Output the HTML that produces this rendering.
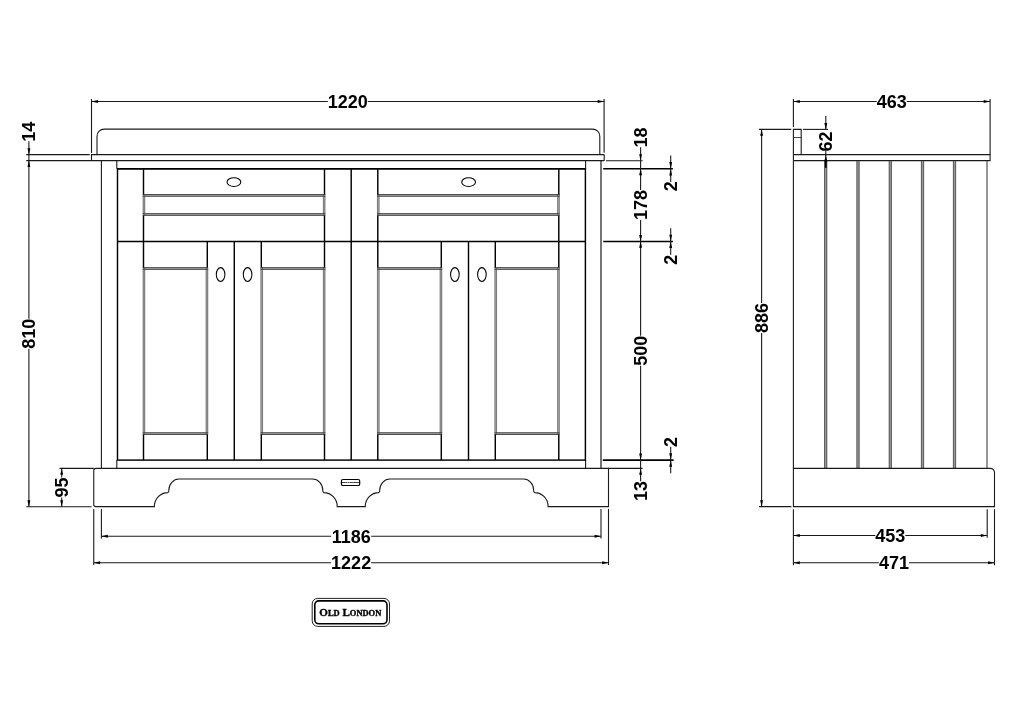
<!DOCTYPE html>
<html><head><meta charset="utf-8"><title>Old London 1200 vanity unit – dimensions</title>
<style>
html,body{margin:0;padding:0;background:#fff;overflow:hidden;width:1024px;height:724px}
svg{display:block;will-change:transform}
text{font-family:"Liberation Sans",sans-serif;font-weight:bold;font-size:18px;fill:#000}
</style></head><body>
<svg width="1024" height="724" viewBox="0 0 1024 724">
<rect width="1024" height="724" fill="#fff"/>
<path d="M97,154.6 V136.3 A7.2,7.2 0 0 1 104.2,129.1 H592.6 A7.2,7.2 0 0 1 599.8,136.3 V154.6" stroke="#1a1a1a" stroke-width="1.1" fill="none"/>
<path d="M91.5,154.6 H603.5 Q604.2,154.6 604.2,155.3 V159.9 Q604.2,160.6 603.5,160.6 H91.5 Z" stroke="#1a1a1a" stroke-width="1.1" fill="none"/>
<line x1="101.4" y1="160.6" x2="101.4" y2="468.4" stroke="#1a1a1a" stroke-width="1.1"/>
<line x1="601" y1="160.6" x2="601" y2="468.4" stroke="#1a1a1a" stroke-width="1.2"/>
<line x1="116.8" y1="160.6" x2="116.8" y2="168.75" stroke="#1a1a1a" stroke-width="1.1"/>
<line x1="585.6" y1="160.6" x2="585.6" y2="168.75" stroke="#1a1a1a" stroke-width="1.1"/>
<line x1="116.8" y1="460" x2="116.8" y2="468.4" stroke="#1a1a1a" stroke-width="1.1"/>
<line x1="585.6" y1="460" x2="585.6" y2="468.4" stroke="#1a1a1a" stroke-width="1.1"/>
<rect x="117.5" y="168.8" width="467.9" height="291.3" stroke="#000" stroke-width="1.45" fill="none"/>
<line x1="117.5" y1="168.8" x2="585.4" y2="168.8" stroke="#000" stroke-width="1.5"/>
<line x1="117.5" y1="241.4" x2="585.4" y2="241.4" stroke="#000" stroke-width="1.45"/>
<line x1="351.2" y1="168.8" x2="351.2" y2="460.1" stroke="#000" stroke-width="1.45"/>
<line x1="234.3" y1="241.4" x2="234.3" y2="460.1" stroke="#000" stroke-width="1.45"/>
<line x1="468.5" y1="241.4" x2="468.5" y2="460.1" stroke="#000" stroke-width="1.45"/>
<rect x="143.95000000000002" y="195.39999999999998" width="180.2" height="19.1" stroke="#b0b0b0" stroke-width="2.2" fill="none"/>
<line x1="143.15" y1="194.6" x2="143.15" y2="215.29999999999998" stroke="#5a5a5a" stroke-width="0.7"/>
<line x1="144.75" y1="194.6" x2="144.75" y2="215.29999999999998" stroke="#5a5a5a" stroke-width="0.7"/>
<line x1="324.95" y1="194.6" x2="324.95" y2="215.29999999999998" stroke="#5a5a5a" stroke-width="0.7"/>
<line x1="323.35" y1="194.6" x2="323.35" y2="215.29999999999998" stroke="#5a5a5a" stroke-width="0.7"/>
<line x1="142.8" y1="194.54999999999998" x2="325.3" y2="194.54999999999998" stroke="#3c3c3c" stroke-width="0.9"/>
<line x1="142.8" y1="196.25" x2="325.3" y2="196.25" stroke="#3c3c3c" stroke-width="0.9"/>
<line x1="142.8" y1="213.64999999999998" x2="325.3" y2="213.64999999999998" stroke="#3c3c3c" stroke-width="0.9"/>
<line x1="142.8" y1="215.35" x2="325.3" y2="215.35" stroke="#3c3c3c" stroke-width="0.9"/>
<rect x="378.25" y="195.39999999999998" width="180.19999999999987" height="19.1" stroke="#b0b0b0" stroke-width="2.2" fill="none"/>
<line x1="377.45000000000005" y1="194.6" x2="377.45000000000005" y2="215.29999999999998" stroke="#5a5a5a" stroke-width="0.7"/>
<line x1="379.05" y1="194.6" x2="379.05" y2="215.29999999999998" stroke="#5a5a5a" stroke-width="0.7"/>
<line x1="559.2499999999999" y1="194.6" x2="559.2499999999999" y2="215.29999999999998" stroke="#5a5a5a" stroke-width="0.7"/>
<line x1="557.6499999999999" y1="194.6" x2="557.6499999999999" y2="215.29999999999998" stroke="#5a5a5a" stroke-width="0.7"/>
<line x1="377.1" y1="194.54999999999998" x2="559.5999999999999" y2="194.54999999999998" stroke="#3c3c3c" stroke-width="0.9"/>
<line x1="377.1" y1="196.25" x2="559.5999999999999" y2="196.25" stroke="#3c3c3c" stroke-width="0.9"/>
<line x1="377.1" y1="213.64999999999998" x2="559.5999999999999" y2="213.64999999999998" stroke="#3c3c3c" stroke-width="0.9"/>
<line x1="377.1" y1="215.35" x2="559.5999999999999" y2="215.35" stroke="#3c3c3c" stroke-width="0.9"/>
<rect x="143.95000000000002" y="268.5" width="63.000000000000014" height="165.1" stroke="#b0b0b0" stroke-width="2.2" fill="none"/>
<line x1="143.15" y1="267.7" x2="143.15" y2="434.40000000000003" stroke="#5a5a5a" stroke-width="0.7"/>
<line x1="144.75" y1="267.7" x2="144.75" y2="434.40000000000003" stroke="#5a5a5a" stroke-width="0.7"/>
<line x1="207.75000000000003" y1="267.7" x2="207.75000000000003" y2="434.40000000000003" stroke="#5a5a5a" stroke-width="0.7"/>
<line x1="206.15000000000003" y1="267.7" x2="206.15000000000003" y2="434.40000000000003" stroke="#5a5a5a" stroke-width="0.7"/>
<line x1="142.8" y1="267.65000000000003" x2="208.10000000000002" y2="267.65000000000003" stroke="#3c3c3c" stroke-width="0.9"/>
<line x1="142.8" y1="269.35" x2="208.10000000000002" y2="269.35" stroke="#3c3c3c" stroke-width="0.9"/>
<line x1="142.8" y1="432.75" x2="208.10000000000002" y2="432.75" stroke="#3c3c3c" stroke-width="0.9"/>
<line x1="142.8" y1="434.45" x2="208.10000000000002" y2="434.45" stroke="#3c3c3c" stroke-width="0.9"/>
<rect x="261.75" y="268.5" width="62.39999999999999" height="165.1" stroke="#b0b0b0" stroke-width="2.2" fill="none"/>
<line x1="260.95000000000005" y1="267.7" x2="260.95000000000005" y2="434.40000000000003" stroke="#5a5a5a" stroke-width="0.7"/>
<line x1="262.55" y1="267.7" x2="262.55" y2="434.40000000000003" stroke="#5a5a5a" stroke-width="0.7"/>
<line x1="324.95" y1="267.7" x2="324.95" y2="434.40000000000003" stroke="#5a5a5a" stroke-width="0.7"/>
<line x1="323.35" y1="267.7" x2="323.35" y2="434.40000000000003" stroke="#5a5a5a" stroke-width="0.7"/>
<line x1="260.6" y1="267.65000000000003" x2="325.3" y2="267.65000000000003" stroke="#3c3c3c" stroke-width="0.9"/>
<line x1="260.6" y1="269.35" x2="325.3" y2="269.35" stroke="#3c3c3c" stroke-width="0.9"/>
<line x1="260.6" y1="432.75" x2="325.3" y2="432.75" stroke="#3c3c3c" stroke-width="0.9"/>
<line x1="260.6" y1="434.45" x2="325.3" y2="434.45" stroke="#3c3c3c" stroke-width="0.9"/>
<rect x="378.25" y="268.5" width="62.7" height="165.1" stroke="#b0b0b0" stroke-width="2.2" fill="none"/>
<line x1="377.45000000000005" y1="267.7" x2="377.45000000000005" y2="434.40000000000003" stroke="#5a5a5a" stroke-width="0.7"/>
<line x1="379.05" y1="267.7" x2="379.05" y2="434.40000000000003" stroke="#5a5a5a" stroke-width="0.7"/>
<line x1="441.75" y1="267.7" x2="441.75" y2="434.40000000000003" stroke="#5a5a5a" stroke-width="0.7"/>
<line x1="440.15000000000003" y1="267.7" x2="440.15000000000003" y2="434.40000000000003" stroke="#5a5a5a" stroke-width="0.7"/>
<line x1="377.1" y1="267.65000000000003" x2="442.1" y2="267.65000000000003" stroke="#3c3c3c" stroke-width="0.9"/>
<line x1="377.1" y1="269.35" x2="442.1" y2="269.35" stroke="#3c3c3c" stroke-width="0.9"/>
<line x1="377.1" y1="432.75" x2="442.1" y2="432.75" stroke="#3c3c3c" stroke-width="0.9"/>
<line x1="377.1" y1="434.45" x2="442.1" y2="434.45" stroke="#3c3c3c" stroke-width="0.9"/>
<rect x="495.75" y="268.5" width="62.69999999999989" height="165.1" stroke="#b0b0b0" stroke-width="2.2" fill="none"/>
<line x1="494.95000000000005" y1="267.7" x2="494.95000000000005" y2="434.40000000000003" stroke="#5a5a5a" stroke-width="0.7"/>
<line x1="496.55" y1="267.7" x2="496.55" y2="434.40000000000003" stroke="#5a5a5a" stroke-width="0.7"/>
<line x1="559.2499999999999" y1="267.7" x2="559.2499999999999" y2="434.40000000000003" stroke="#5a5a5a" stroke-width="0.7"/>
<line x1="557.6499999999999" y1="267.7" x2="557.6499999999999" y2="434.40000000000003" stroke="#5a5a5a" stroke-width="0.7"/>
<line x1="494.6" y1="267.65000000000003" x2="559.5999999999999" y2="267.65000000000003" stroke="#3c3c3c" stroke-width="0.9"/>
<line x1="494.6" y1="269.35" x2="559.5999999999999" y2="269.35" stroke="#3c3c3c" stroke-width="0.9"/>
<line x1="494.6" y1="432.75" x2="559.5999999999999" y2="432.75" stroke="#3c3c3c" stroke-width="0.9"/>
<line x1="494.6" y1="434.45" x2="559.5999999999999" y2="434.45" stroke="#3c3c3c" stroke-width="0.9"/>
<line x1="143.5" y1="168.8" x2="143.5" y2="194.4" stroke="#000" stroke-width="1.45"/>
<line x1="143.5" y1="215.5" x2="143.5" y2="267.5" stroke="#000" stroke-width="1.45"/>
<line x1="143.5" y1="434.5" x2="143.5" y2="460.1" stroke="#000" stroke-width="1.45"/>
<line x1="324.5" y1="168.8" x2="324.5" y2="194.4" stroke="#000" stroke-width="1.45"/>
<line x1="324.5" y1="215.5" x2="324.5" y2="267.5" stroke="#000" stroke-width="1.45"/>
<line x1="324.5" y1="434.5" x2="324.5" y2="460.1" stroke="#000" stroke-width="1.45"/>
<line x1="377.8" y1="168.8" x2="377.8" y2="194.4" stroke="#000" stroke-width="1.45"/>
<line x1="377.8" y1="215.5" x2="377.8" y2="267.5" stroke="#000" stroke-width="1.45"/>
<line x1="377.8" y1="434.5" x2="377.8" y2="460.1" stroke="#000" stroke-width="1.45"/>
<line x1="558.8" y1="168.8" x2="558.8" y2="194.4" stroke="#000" stroke-width="1.45"/>
<line x1="558.8" y1="215.5" x2="558.8" y2="267.5" stroke="#000" stroke-width="1.45"/>
<line x1="558.8" y1="434.5" x2="558.8" y2="460.1" stroke="#000" stroke-width="1.45"/>
<line x1="207.3" y1="241.4" x2="207.3" y2="267.5" stroke="#000" stroke-width="1.45"/>
<line x1="207.3" y1="434.5" x2="207.3" y2="460.1" stroke="#000" stroke-width="1.45"/>
<line x1="261.3" y1="241.4" x2="261.3" y2="267.5" stroke="#000" stroke-width="1.45"/>
<line x1="261.3" y1="434.5" x2="261.3" y2="460.1" stroke="#000" stroke-width="1.45"/>
<line x1="441.3" y1="241.4" x2="441.3" y2="267.5" stroke="#000" stroke-width="1.45"/>
<line x1="441.3" y1="434.5" x2="441.3" y2="460.1" stroke="#000" stroke-width="1.45"/>
<line x1="495.3" y1="241.4" x2="495.3" y2="267.5" stroke="#000" stroke-width="1.45"/>
<line x1="495.3" y1="434.5" x2="495.3" y2="460.1" stroke="#000" stroke-width="1.45"/>
<ellipse cx="233.9" cy="182.1" rx="6.9" ry="4.3" stroke="#000" stroke-width="1.05" fill="#fff"/>
<ellipse cx="468.6" cy="182.1" rx="6.9" ry="4.3" stroke="#000" stroke-width="1.05" fill="#fff"/>
<ellipse cx="220.6" cy="274.5" rx="4.3" ry="6.9" stroke="#000" stroke-width="1.05" fill="#fff"/>
<ellipse cx="247.6" cy="274.5" rx="4.3" ry="6.9" stroke="#000" stroke-width="1.05" fill="#fff"/>
<ellipse cx="481.9" cy="274.5" rx="4.3" ry="6.9" stroke="#000" stroke-width="1.05" fill="#fff"/>
<ellipse cx="454.9" cy="274.5" rx="4.3" ry="6.9" stroke="#000" stroke-width="1.05" fill="#fff"/>
<path d="M95.9,506.6 H154.4 A13.4,13.9 0 0 1 167.80,492.6 Q169.00,492 168.80,490.2 A10.2,11.3 0 0 1 179.00,479.05 H312.60 A10.2,11.3 0 0 1 322.80,490.2 Q322.60,492 323.80,492.6 A13.4,13.9 0 0 1 337.20,506.6 H365.3 A13.4,13.9 0 0 1 378.70,492.6 Q379.90,492 379.70,490.2 A10.2,11.3 0 0 1 389.90,479.05 H523.50 A10.2,11.3 0 0 1 533.70,490.2 Q533.50,492 534.70,492.6 A13.4,13.9 0 0 1 548.10,506.6 H608.5 V468.35 H95.9 Q93.75,468.35 93.75,470.45000000000005 V504.5 Q93.75,506.6 95.9,506.6 Z" stroke="#1a1a1a" stroke-width="1.1" fill="none"/>
<rect x="341.4" y="479.5" width="18.3" height="6" rx="1.6" stroke="#000" stroke-width="1.2" fill="#fff"/>
<text x="350.6" y="483.4" text-anchor="middle" stroke="#000" stroke-width="0.2" style="font:bold 2.6px 'Liberation Serif',serif">OLD LONDON</text>
<line x1="91.5" y1="99" x2="91.5" y2="153" stroke="#1a1a1a" stroke-width="1.1"/>
<line x1="604.1" y1="99" x2="604.1" y2="152.8" stroke="#1a1a1a" stroke-width="1.1"/>
<line x1="91.5" y1="101.5" x2="327.784" y2="101.5" stroke="#1a1a1a" stroke-width="1.1"/>
<line x1="367.81600000000003" y1="101.5" x2="604.1" y2="101.5" stroke="#1a1a1a" stroke-width="1.1"/>
<polygon points="91.5,101.5 97.9,100.05 97.9,102.95" fill="#000"/>
<polygon points="604.1,101.5 597.7,100.05 597.7,102.95" fill="#000"/>
<text x="347.8" y="107.95" text-anchor="middle">1220</text>
<line x1="26.25" y1="154.6" x2="89.7" y2="154.6" stroke="#1a1a1a" stroke-width="1.1"/>
<line x1="26.25" y1="160.6" x2="91" y2="160.6" stroke="#1a1a1a" stroke-width="1.1"/>
<line x1="28.9" y1="141.2" x2="28.9" y2="160.6" stroke="#1a1a1a" stroke-width="1.1"/>
<polygon points="28.9,154.6 27.45,148.2 30.349999999999998,148.2" fill="#000"/>
<text transform="translate(35.35,131.7) rotate(-90)" text-anchor="middle">14</text>
<line x1="28.9" y1="160.6" x2="28.9" y2="318.638" stroke="#1a1a1a" stroke-width="1.1"/>
<line x1="28.9" y1="348.662" x2="28.9" y2="506.7" stroke="#1a1a1a" stroke-width="1.1"/>
<polygon points="28.9,160.6 27.45,167.0 30.349999999999998,167.0" fill="#000"/>
<polygon points="28.9,506.7 27.45,500.3 30.349999999999998,500.3" fill="#000"/>
<text transform="translate(35.35,333.65) rotate(-90)" text-anchor="middle">810</text>
<line x1="26.25" y1="506.7" x2="91.5" y2="506.7" stroke="#1a1a1a" stroke-width="1.1"/>
<line x1="59.5" y1="468.4" x2="93.75" y2="468.4" stroke="#1a1a1a" stroke-width="1.1"/>
<line x1="61.7" y1="468.4" x2="61.7" y2="477.542" stroke="#1a1a1a" stroke-width="1.1"/>
<line x1="61.7" y1="497.55799999999994" x2="61.7" y2="506.7" stroke="#1a1a1a" stroke-width="1.1"/>
<polygon points="61.7,468.4 60.25,474.79999999999995 63.150000000000006,474.79999999999995" fill="#000"/>
<polygon points="61.7,506.7 60.25,500.3 63.150000000000006,500.3" fill="#000"/>
<text transform="translate(68.15,487.54999999999995) rotate(-90)" text-anchor="middle">95</text>
<line x1="101.4" y1="508.9" x2="101.4" y2="538.5" stroke="#1a1a1a" stroke-width="1.1"/>
<line x1="601" y1="508.9" x2="601" y2="538.5" stroke="#1a1a1a" stroke-width="1.1"/>
<line x1="93.75" y1="508.9" x2="93.75" y2="565" stroke="#1a1a1a" stroke-width="1.1"/>
<line x1="608.5" y1="508.9" x2="608.5" y2="565" stroke="#1a1a1a" stroke-width="1.1"/>
<line x1="101.4" y1="536.3" x2="331.18399999999997" y2="536.3" stroke="#1a1a1a" stroke-width="1.1"/>
<line x1="371.216" y1="536.3" x2="601" y2="536.3" stroke="#1a1a1a" stroke-width="1.1"/>
<polygon points="101.4,536.3 107.80000000000001,534.8499999999999 107.80000000000001,537.75" fill="#000"/>
<polygon points="601,536.3 594.6,534.8499999999999 594.6,537.75" fill="#000"/>
<text x="351.2" y="542.75" text-anchor="middle">1186</text>
<line x1="93.75" y1="562.8" x2="331.109" y2="562.8" stroke="#1a1a1a" stroke-width="1.1"/>
<line x1="371.141" y1="562.8" x2="608.5" y2="562.8" stroke="#1a1a1a" stroke-width="1.1"/>
<polygon points="93.75,562.8 100.15,561.3499999999999 100.15,564.25" fill="#000"/>
<polygon points="608.5,562.8 602.1,561.3499999999999 602.1,564.25" fill="#000"/>
<text x="351.125" y="569.25" text-anchor="middle">1222</text>
<line x1="606" y1="160.7" x2="642.6" y2="160.7" stroke="#1a1a1a" stroke-width="1.1"/>
<line x1="603.2" y1="168.8" x2="672.9" y2="168.8" stroke="#000" stroke-width="1.55"/>
<line x1="603.2" y1="241.45" x2="672.9" y2="241.45" stroke="#000" stroke-width="1.55"/>
<line x1="602.8" y1="460.1" x2="673.6" y2="460.1" stroke="#000" stroke-width="1.55"/>
<line x1="608.5" y1="468.35" x2="642.6" y2="468.35" stroke="#1a1a1a" stroke-width="1.1"/>
<text transform="translate(647.45,137.6) rotate(-90)" text-anchor="middle">18</text>
<line x1="640.6" y1="147.2" x2="640.6" y2="160.7" stroke="#1a1a1a" stroke-width="1.1"/>
<polygon points="640.6,160.7 639.15,154.29999999999998 642.0500000000001,154.29999999999998" fill="#000"/>
<line x1="640.6" y1="160.7" x2="640.6" y2="168.75" stroke="#1a1a1a" stroke-width="1.1"/>
<line x1="640.6" y1="168.75" x2="640.6" y2="190.063" stroke="#1a1a1a" stroke-width="1.1"/>
<line x1="640.6" y1="220.087" x2="640.6" y2="241.4" stroke="#1a1a1a" stroke-width="1.1"/>
<polygon points="640.6,168.75 639.15,175.15 642.0500000000001,175.15" fill="#000"/>
<polygon points="640.6,241.4 639.15,235.0 642.0500000000001,235.0" fill="#000"/>
<text transform="translate(647.05,205.075) rotate(-90)" text-anchor="middle">178</text>
<line x1="640.6" y1="241.4" x2="640.6" y2="335.688" stroke="#1a1a1a" stroke-width="1.1"/>
<line x1="640.6" y1="365.712" x2="640.6" y2="460" stroke="#1a1a1a" stroke-width="1.1"/>
<polygon points="640.6,241.4 639.15,247.8 642.0500000000001,247.8" fill="#000"/>
<polygon points="640.6,460 639.15,453.6 642.0500000000001,453.6" fill="#000"/>
<text transform="translate(647.05,350.7) rotate(-90)" text-anchor="middle">500</text>
<line x1="640.6" y1="460" x2="640.6" y2="481.2" stroke="#1a1a1a" stroke-width="1.1"/>
<polygon points="640.6,468.4 639.15,474.79999999999995 642.0500000000001,474.79999999999995" fill="#000"/>
<text transform="translate(647.45,491) rotate(-90)" text-anchor="middle">13</text>
<line x1="670.7" y1="155.5" x2="670.7" y2="182.0" stroke="#1a1a1a" stroke-width="1.1"/>
<polygon points="670.7,168.45 669.25,162.04999999999998 672.1500000000001,162.04999999999998" fill="#000"/>
<polygon points="670.7,169.05 669.25,175.45000000000002 672.1500000000001,175.45000000000002" fill="#000"/>
<text transform="translate(677.45,186.2) rotate(-90)" text-anchor="middle">2</text>
<line x1="670.7" y1="228.15" x2="670.7" y2="254.65" stroke="#1a1a1a" stroke-width="1.1"/>
<polygon points="670.7,241.1 669.25,234.7 672.1500000000001,234.7" fill="#000"/>
<polygon points="670.7,241.70000000000002 669.25,248.10000000000002 672.1500000000001,248.10000000000002" fill="#000"/>
<text transform="translate(677.45,259.7) rotate(-90)" text-anchor="middle">2</text>
<line x1="670.7" y1="446.75" x2="670.7" y2="473.25" stroke="#1a1a1a" stroke-width="1.1"/>
<polygon points="670.7,459.7 669.25,453.3 672.1500000000001,453.3" fill="#000"/>
<polygon points="670.7,460.3 669.25,466.7 672.1500000000001,466.7" fill="#000"/>
<text transform="translate(677.45,442) rotate(-90)" text-anchor="middle">2</text>
<path d="M793.4,160.6 V129.4 H801.2 V154.6" stroke="#1a1a1a" stroke-width="1.1" fill="none"/>
<line x1="793.4" y1="137.5" x2="801.2" y2="137.5" stroke="#333" stroke-width="0.9"/>
<path d="M793.4,154.6 H990.1 V160.6 H793.4" stroke="#1a1a1a" stroke-width="1.1" fill="none"/>
<line x1="793.4" y1="160.6" x2="793.4" y2="468.5" stroke="#1a1a1a" stroke-width="1.1"/>
<line x1="825.7" y1="161" x2="825.7" y2="468" stroke="#999" stroke-width="2.6"/>
<line x1="824.5500000000001" y1="161" x2="824.5500000000001" y2="468" stroke="#3a3a3a" stroke-width="0.75"/>
<line x1="826.85" y1="161" x2="826.85" y2="468" stroke="#3a3a3a" stroke-width="0.75"/>
<line x1="858.0" y1="161" x2="858.0" y2="468" stroke="#999" stroke-width="2.6"/>
<line x1="856.85" y1="161" x2="856.85" y2="468" stroke="#3a3a3a" stroke-width="0.75"/>
<line x1="859.15" y1="161" x2="859.15" y2="468" stroke="#3a3a3a" stroke-width="0.75"/>
<line x1="890.3" y1="161" x2="890.3" y2="468" stroke="#999" stroke-width="2.6"/>
<line x1="889.15" y1="161" x2="889.15" y2="468" stroke="#3a3a3a" stroke-width="0.75"/>
<line x1="891.4499999999999" y1="161" x2="891.4499999999999" y2="468" stroke="#3a3a3a" stroke-width="0.75"/>
<line x1="922.5" y1="161" x2="922.5" y2="468" stroke="#999" stroke-width="2.6"/>
<line x1="921.35" y1="161" x2="921.35" y2="468" stroke="#3a3a3a" stroke-width="0.75"/>
<line x1="923.65" y1="161" x2="923.65" y2="468" stroke="#3a3a3a" stroke-width="0.75"/>
<line x1="954.5" y1="161" x2="954.5" y2="468" stroke="#999" stroke-width="2.6"/>
<line x1="953.35" y1="161" x2="953.35" y2="468" stroke="#3a3a3a" stroke-width="0.75"/>
<line x1="955.65" y1="161" x2="955.65" y2="468" stroke="#3a3a3a" stroke-width="0.75"/>
<line x1="987.0" y1="161" x2="987.0" y2="468" stroke="#484848" stroke-width="1.15"/>
<path d="M793.4,468.4 H990.5 A4,4 0 0 1 994.5,472.5 V506.6 H793.4 Z" stroke="#1a1a1a" stroke-width="1.1" fill="none"/>
<line x1="793.4" y1="99" x2="793.4" y2="127" stroke="#1a1a1a" stroke-width="1.1"/>
<line x1="990.1" y1="99" x2="990.1" y2="154.6" stroke="#1a1a1a" stroke-width="1.1"/>
<line x1="793.4" y1="101.5" x2="876.738" y2="101.5" stroke="#1a1a1a" stroke-width="1.1"/>
<line x1="906.762" y1="101.5" x2="990.1" y2="101.5" stroke="#1a1a1a" stroke-width="1.1"/>
<polygon points="793.4,101.5 799.8,100.05 799.8,102.95" fill="#000"/>
<polygon points="990.1,101.5 983.7,100.05 983.7,102.95" fill="#000"/>
<text x="891.75" y="107.95" text-anchor="middle">463</text>
<line x1="759" y1="129.4" x2="791.3" y2="129.4" stroke="#1a1a1a" stroke-width="1.1"/>
<line x1="803" y1="129.4" x2="828" y2="129.4" stroke="#1a1a1a" stroke-width="1.1"/>
<line x1="759" y1="506.6" x2="791.4" y2="506.6" stroke="#1a1a1a" stroke-width="1.1"/>
<line x1="761.6" y1="129.4" x2="761.6" y2="302.988" stroke="#1a1a1a" stroke-width="1.1"/>
<line x1="761.6" y1="333.012" x2="761.6" y2="506.6" stroke="#1a1a1a" stroke-width="1.1"/>
<polygon points="761.6,129.4 760.15,135.8 763.0500000000001,135.8" fill="#000"/>
<polygon points="761.6,506.6 760.15,500.20000000000005 763.0500000000001,500.20000000000005" fill="#000"/>
<text transform="translate(768.05,318.0) rotate(-90)" text-anchor="middle">886</text>
<line x1="825.8" y1="116" x2="825.8" y2="129.4" stroke="#1a1a1a" stroke-width="1.1"/>
<polygon points="825.8,129.4 824.3499999999999,123.0 827.25,123.0" fill="#000"/>
<text transform="translate(832.05,141.5) rotate(-90)" text-anchor="middle">62</text>
<line x1="825.8" y1="151" x2="825.8" y2="161" stroke="#1a1a1a" stroke-width="1.1"/>
<polygon points="825.8,155 824.3,161.5 827.3,161.5" fill="#000"/>
<line x1="825.8" y1="160" x2="825.8" y2="167.8" stroke="#000" stroke-width="1.8"/>
<line x1="793.4" y1="509.2" x2="793.4" y2="565.2" stroke="#1a1a1a" stroke-width="1.1"/>
<line x1="987.2" y1="509.2" x2="987.2" y2="537.8" stroke="#1a1a1a" stroke-width="1.1"/>
<line x1="994.5" y1="509.2" x2="994.5" y2="565.2" stroke="#1a1a1a" stroke-width="1.1"/>
<line x1="793.4" y1="535.5" x2="875.288" y2="535.5" stroke="#1a1a1a" stroke-width="1.1"/>
<line x1="905.3119999999999" y1="535.5" x2="987.2" y2="535.5" stroke="#1a1a1a" stroke-width="1.1"/>
<polygon points="793.4,535.5 799.8,534.05 799.8,536.95" fill="#000"/>
<polygon points="987.2,535.5 980.8000000000001,534.05 980.8000000000001,536.95" fill="#000"/>
<text x="890.3" y="541.95" text-anchor="middle">453</text>
<line x1="793.4" y1="562.8" x2="878.9380000000001" y2="562.8" stroke="#1a1a1a" stroke-width="1.1"/>
<line x1="908.962" y1="562.8" x2="994.5" y2="562.8" stroke="#1a1a1a" stroke-width="1.1"/>
<polygon points="793.4,562.8 799.8,561.3499999999999 799.8,564.25" fill="#000"/>
<polygon points="994.5,562.8 988.1,561.3499999999999 988.1,564.25" fill="#000"/>
<text x="893.95" y="569.25" text-anchor="middle">471</text>
<rect x="312.2" y="598.4" width="77.3" height="28" rx="5.5" stroke="#222" stroke-width="1" fill="none"/>
<rect x="314.8" y="600.9" width="72.2" height="22.9" rx="4" stroke="#000" stroke-width="1.6" fill="none"/>
<text x="350.3" y="616.3" text-anchor="middle" stroke="#000" stroke-width="0.35" style="font:bold 11px 'Liberation Serif',serif" textLength="62" lengthAdjust="spacingAndGlyphs">O<tspan style="font-size:8.4px">LD</tspan> L<tspan style="font-size:8.4px">ONDON</tspan></text>
</svg>
</body></html>
